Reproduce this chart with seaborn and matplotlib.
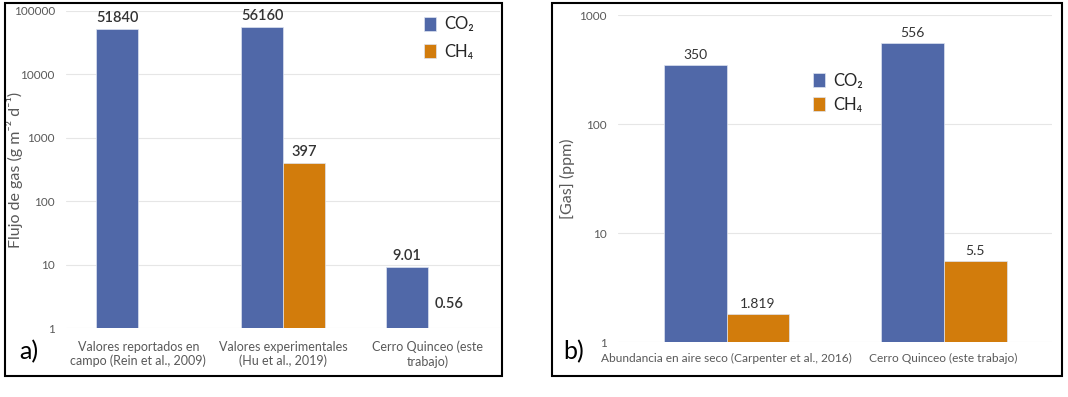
import matplotlib
matplotlib.use("Agg")
import matplotlib.pyplot as plt
import matplotlib.patches as mpatches
import seaborn as sns
import numpy as np
import pandas as pd

# Data ------------------------------------------------------------
cats_a = ["Valores reportados en\ncampo (Rein et al., 2009)",
          "Valores experimentales\n(Hu et al., 2019)",
          "Cerro Quinceo (este\ntrabajo)"]
co2_a = [51840, 56160, 9.01]
ch4_a = [np.nan, 397, 0.56]

cats_b = ["Abundancia en aire seco (Carpenter et al., 2016)",
          "Cerro Quinceo (este trabajo)"]
co2_b = [350, 556]
ch4_b = [1.819, 5.5]

gases = ["CO₂", "CH₄"]
colors = ["#5068A8", "#D27C0C"]

sns.set_theme(style="white")
plt.rcParams["font.family"] = ["Lato", "DejaVu Sans"]

fig = plt.figure(figsize=(10.68, 3.97), dpi=100)


def make_df(cats, co2, ch4):
    return pd.DataFrame({"cat": list(cats) * 2,
                         "gas": [gases[0]] * len(cats) + [gases[1]] * len(cats),
                         "valor": list(co2) + list(ch4)})


def panel(ax, df, ylim, ylabel, lab_size, lab_weight):
    ax.set_yscale("log")
    sns.barplot(data=df, x="cat", y="valor", hue="gas", hue_order=gases,
                palette=colors, width=0.58, edgecolor="#dde3f0", linewidth=0.5,
                saturation=1, ax=ax)
    ax.set_ylim(*ylim)
    ax.set_xlim(-0.5, len(df["cat"].unique()) - 0.5)
    ticks = [10 ** k for k in range(int(np.log10(ylim[0])), int(np.log10(ylim[1])) + 1)]
    ax.set_yticks(ticks, [str(t) for t in ticks])
    ax.minorticks_off()
    ax.yaxis.grid(True, color="#e6e6e6", linewidth=0.8)
    ax.set_axisbelow(True)
    for s in ax.spines.values():
        s.set_visible(False)
    ax.tick_params(axis="both", length=0, labelcolor="#595959", labelsize=8.5)
    ax.tick_params(axis="y", pad=8)
    ax.tick_params(axis="x", pad=9, labelsize=9)
    ax.set_xlabel("")
    ax.set_ylabel(ylabel, color="#595959", fontsize=11.5)
    ax.yaxis.set_label_coords(-0.099, 0.5)
    # value labels
    for p in ax.patches:
        h = p.get_height()
        if not np.isfinite(h) or h <= 0:
            continue
        off = 3 if h >= ylim[0] else 12
        ax.annotate(f"{h:g}", (p.get_x() + p.get_width() / 2, max(h, ylim[0])),
                    xytext=(0, off), textcoords="offset points", ha="center",
                    va="bottom", fontsize=lab_size, color="#333333",
                    fontweight=lab_weight)


# Panel a ---------------------------------------------------------
ax1 = fig.add_axes([0.0618, 0.1738, 0.4064, 0.7985])
panel(ax1, make_df(cats_a, co2_a, ch4_a), (1, 100000),
      "Flujo de gas (g m⁻² d⁻¹)", 10.5, "semibold")
ax1.legend(loc="upper left", bbox_to_anchor=(0.79, 1.03), frameon=False,
           handlelength=0.7, handleheight=0.9, handletextpad=0.5,
           fontsize=12, labelspacing=0.7)

# Panel b ---------------------------------------------------------
ax2 = fig.add_axes([0.5787, 0.1385, 0.4064, 0.8237])
panel(ax2, make_df(cats_b, co2_b, ch4_b), (1, 1000),
      "[Gas] (ppm)", 10, "normal")
ax2.tick_params(axis="x", pad=8, labelsize=8.6)
ax2.legend(loc="upper left", bbox_to_anchor=(0.415, 0.87), frameon=False,
           handlelength=0.7, handleheight=0.9, handletextpad=0.5,
           fontsize=12, labelspacing=0.5)

# Panel frames and letters
fig.add_artist(mpatches.Rectangle((0.0047, 0.0529), 0.4653, 0.9395,
                                  transform=fig.transFigure, fill=False,
                                  edgecolor="black", linewidth=1.5))
fig.add_artist(mpatches.Rectangle((0.5169, 0.0529), 0.4775, 0.9395,
                                  transform=fig.transFigure, fill=False,
                                  edgecolor="black", linewidth=1.5))
fig.text(0.018, 0.113, "a)", fontsize=18, color="black", va="center")
fig.text(0.527, 0.113, "b)", fontsize=18, color="black", va="center")

fig.savefig("out.png", dpi=100)
